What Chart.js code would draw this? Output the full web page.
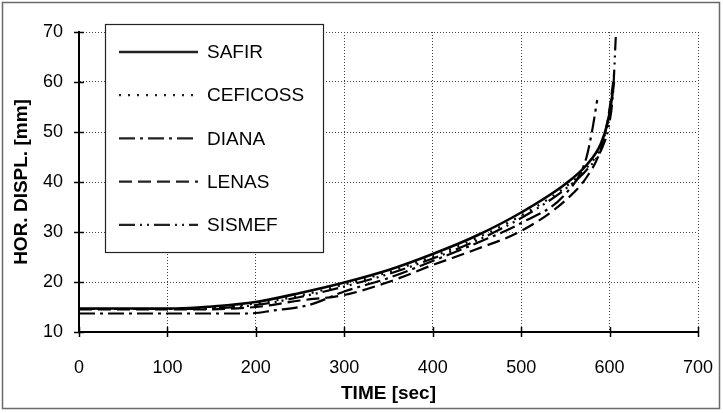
<!DOCTYPE html>
<html>
<head>
<meta charset="utf-8">
<script src="https://cdn.jsdelivr.net/npm/chart.js@4.4.1/dist/chart.umd.min.js"></script>
<style>
  html, body { margin: 0; padding: 0; background: #fff; }
  #wrap { width: 723px; height: 413px; }
</style>
</head>
<body>
<div id="wrap"><canvas id="chartCanvas" width="723" height="413"></canvas></div>
<script>
// Dados (tempo em s, deslocamento em mm)
const seriesNames = ['SAFIR', 'CEFICOSS', 'DIANA', 'LENAS', 'SISMEF'];

const safirTime  = [0, 110, 150, 200, 250, 300, 350, 400, 450, 500, 550, 575, 590, 598, 602, 605];
const safirDispl = [14.7, 14.7, 15.1, 16.0, 17.8, 19.9, 22.4, 25.6, 29.3, 33.9, 39.6, 43.6, 47.6, 52.0, 56.0, 60.0];

const ceficossTime  = [0, 120, 200, 250, 300, 350, 400, 450, 500, 550, 575, 590, 598, 603];
const ceficossDispl = [14.6, 14.6, 15.7, 17.3, 19.5, 22.0, 25.1, 28.8, 33.3, 39.0, 43.0, 47.0, 52.0, 58.0];

const dianaTime  = [0, 190, 220, 260, 300, 350, 400, 450, 500, 550, 573, 580, 586];
const dianaDispl = [13.7, 13.7, 14.3, 15.4, 18.1, 20.8, 24.2, 27.8, 31.8, 37.6, 44.4, 50.0, 56.4];

const lenasTime  = [0, 130, 200, 250, 300, 350, 400, 450, 500, 550, 575, 590, 598, 603, 605];
const lenasDispl = [14.5, 14.5, 15.0, 16.3, 17.4, 20.0, 23.4, 26.6, 30.2, 36.3, 41.2, 46.5, 52.5, 58.5, 61.5];

const sismefTime  = [0, 120, 200, 250, 300, 350, 400, 450, 500, 550, 575, 592, 600, 604, 607];
const sismefDispl = [14.6, 14.6, 15.4, 17.0, 19.1, 21.6, 24.7, 28.3, 32.8, 38.6, 42.6, 47.0, 52.0, 58.0, 69.0];

const xTicks = [0, 100, 200, 300, 400, 500, 600, 700];
const yTicks = [10, 20, 30, 40, 50, 60, 70];

// Estilos de linha
const dashes = [[], [2, 7], [16, 5, 3, 5], [13, 6], [16, 5, 2, 5, 2, 5]];
const widths = [2.6, 2.2, 2.2, 2.2, 2.2];

function toPoints(xs, ys) {
    return xs.map((x, i) => ({ x: x, y: ys[i] }));
}

const allTimes = [safirTime, ceficossTime, dianaTime, lenasTime, sismefTime];
const allDispl = [safirDispl, ceficossDispl, dianaDispl, lenasDispl, sismefDispl];

const datasets = seriesNames.map((name, i) => ({
    label: name,
    data: toPoints(allTimes[i], allDispl[i]),
    borderColor: '#000',
    borderWidth: widths[i],
    borderDash: dashes[i],
    pointRadius: 0,
    cubicInterpolationMode: 'monotone',
    fill: false
}));

const FONT = "'Liberation Sans', Arial, sans-serif";

// Moldura externa, marcas dos eixos e legenda
const decorPlugin = {
    id: 'decor',
    beforeDraw(chart) {
        const c = chart.ctx;
        c.save();
        c.fillStyle = '#fff';
        c.fillRect(0, 0, chart.width, chart.height);
        c.strokeStyle = '#6a6a6a';
        c.lineWidth = 1.5;
        c.strokeRect(2.5, 2.5, 717, 406);
        c.restore();
    },
    afterDatasetsDraw(chart) {
        const c = chart.ctx;
        const xs = chart.scales.x, ys = chart.scales.y;
        const area = chart.chartArea;
        c.save();
        c.strokeStyle = '#000';
        c.lineWidth = 1.5;
        xTicks.forEach(t => {
            const px = Math.round(xs.getPixelForValue(t)) + 0.5;
            c.beginPath();
            c.moveTo(px, area.bottom - 5);
            c.lineTo(px, area.bottom + 5);
            c.stroke();
        });
        yTicks.forEach(t => {
            const py = Math.round(ys.getPixelForValue(t)) + 0.5;
            c.beginPath();
            c.moveTo(area.left - 5, py);
            c.lineTo(area.left + 5, py);
            c.stroke();
        });

        // Legenda
        const bx = 105.5, by = 24.5, bw = 218, bh = 228;
        c.fillStyle = '#fff';
        c.fillRect(bx, by, bw, bh);
        c.strokeStyle = '#222';
        c.lineWidth = 1.2;
        c.strokeRect(bx, by, bw, bh);
        c.font = '19px ' + FONT;
        c.textBaseline = 'middle';
        c.textAlign = 'left';
        c.fillStyle = '#000';
        chart.data.datasets.forEach((ds, i) => {
            const ry = 52 + i * 43.2;
            c.setLineDash(ds.borderDash);
            c.lineWidth = ds.borderWidth;
            c.beginPath();
            c.moveTo(119, ry);
            c.lineTo(198, ry);
            c.stroke();
            c.setLineDash([]);
            c.fillText(ds.label, 207, ry + 1);
        });
        c.restore();
    }
};

const ctx = document.getElementById('chartCanvas').getContext('2d');
const myChart = new Chart(ctx, {
    type: 'line',
    data: { datasets: datasets },
    plugins: [decorPlugin],
    options: {
        responsive: false,
        animation: false,
        layout: { padding: { top: 32, right: 25, left: 0, bottom: 0 } },
        plugins: {
            legend: { display: false },
            tooltip: { enabled: false }
        },
        scales: {
            x: {
                type: 'linear',
                min: 0,
                max: 700,
                afterFit(scale) {
                    scale.height = 81;
                    scale.paddingLeft = 0;
                    scale.paddingRight = 0;
                },
                afterBuildTicks(scale) { scale.ticks = xTicks.map(v => ({ value: v })); },
                grid: { color: '#444', lineWidth: 1, drawTicks: false },
                border: { display: true, color: '#000', width: 2, dash: [1, 2] },
                ticks: {
                    color: '#000',
                    padding: 25,
                    maxRotation: 0,
                    font: { family: FONT, size: 18 }
                },
                title: {
                    display: true,
                    text: 'TIME [sec]',
                    color: '#000',
                    padding: { bottom: 8 },
                    font: { family: FONT, size: 19, weight: 'bold' }
                }
            },
            y: {
                type: 'linear',
                min: 10,
                max: 70,
                afterFit(scale) {
                    scale.width = 79;
                    scale.paddingTop = 0;
                    scale.paddingBottom = 0;
                },
                afterBuildTicks(scale) { scale.ticks = yTicks.map(v => ({ value: v })); },
                grid: { color: '#444', lineWidth: 1, drawTicks: false },
                border: { display: true, color: '#000', width: 2, dash: [1, 2] },
                ticks: {
                    color: '#000',
                    padding: 16,
                    font: { family: FONT, size: 18 }
                },
                title: {
                    display: true,
                    text: 'HOR. DISPL. [mm]',
                    color: '#000',
                    padding: { top: 10 },
                    font: { family: FONT, size: 19, weight: 'bold' }
                }
            }
        }
    }
});
</script>
</body>
</html>
